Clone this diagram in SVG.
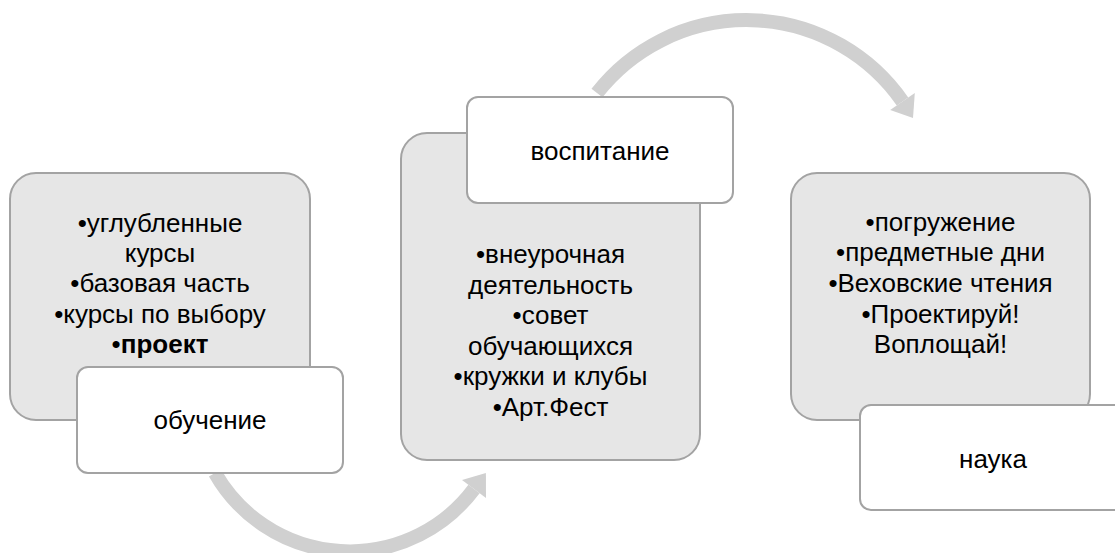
<svg xmlns="http://www.w3.org/2000/svg" width="1115" height="553" viewBox="0 0 1115 553">
<style>
.blk{fill:#e6e6e6;stroke:#a3a3a3;stroke-width:2}
.lbl{fill:#ffffff;stroke:#a3a3a3;stroke-width:2}
.arc{fill:none;stroke:#d0d0d0;stroke-width:14}
.head{fill:#d0d0d0}
text{font-family:"Liberation Sans",Arial,sans-serif;font-size:26px;fill:#000;text-anchor:middle}
</style>
<rect width="1115" height="553" fill="#ffffff"/>
<g id="connectors">
<path class="arc" d="M 597 93 A 190 190 0 0 1 902.5 101.5"/>
<polygon class="head" points="914.8,92.9 890.2,110.1 913,118"/>
<path class="arc" d="M 215 473 A 155 155 0 0 0 474 489"/>
<polygon class="head" points="486,497.9 462,480.1 485.9,473"/>
</g>
<g id="block1">
<rect class="blk" x="10" y="173" width="300" height="247" rx="26"/>
<text x="160" y="232">•углубленные</text>
<text x="160" y="262">курсы</text>
<text x="160" y="292">•базовая часть</text>
<text x="160" y="323">•курсы по выбору</text>
<text x="160" y="353">•<tspan font-weight="bold">проект</tspan></text>
</g>
<g id="label1">
<rect class="lbl" x="77" y="367" width="266" height="106" rx="11"/>
<text x="210" y="429">обучение</text>
</g>
<g id="block2">
<rect class="blk" x="401" y="133" width="299" height="327" rx="26"/>
<text x="550.5" y="263">•внеурочная</text>
<text x="550.5" y="293.5">деятельность</text>
<text x="550.5" y="324">•совет</text>
<text x="550.5" y="354.5">обучающихся</text>
<text x="550.5" y="385">•кружки и клубы</text>
<text x="550.5" y="415.5">•Арт.Фест</text>
</g>
<g id="label2">
<rect class="lbl" x="467" y="97" width="266" height="106" rx="11"/>
<text x="600" y="160">воспитание</text>
</g>
<g id="block3">
<rect class="blk" x="791" y="173" width="299" height="247" rx="26"/>
<text x="940.5" y="231">•погружение</text>
<text x="940.5" y="261">•предметные дни</text>
<text x="940.5" y="292">•Веховские чтения</text>
<text x="940.5" y="323">•Проектируй!</text>
<text x="940.5" y="353">Воплощай!</text>
</g>
<g id="label3">
<rect class="lbl" x="860" y="405" width="266" height="105" rx="11"/>
<text x="993" y="468">наука</text>
</g>
</svg>
